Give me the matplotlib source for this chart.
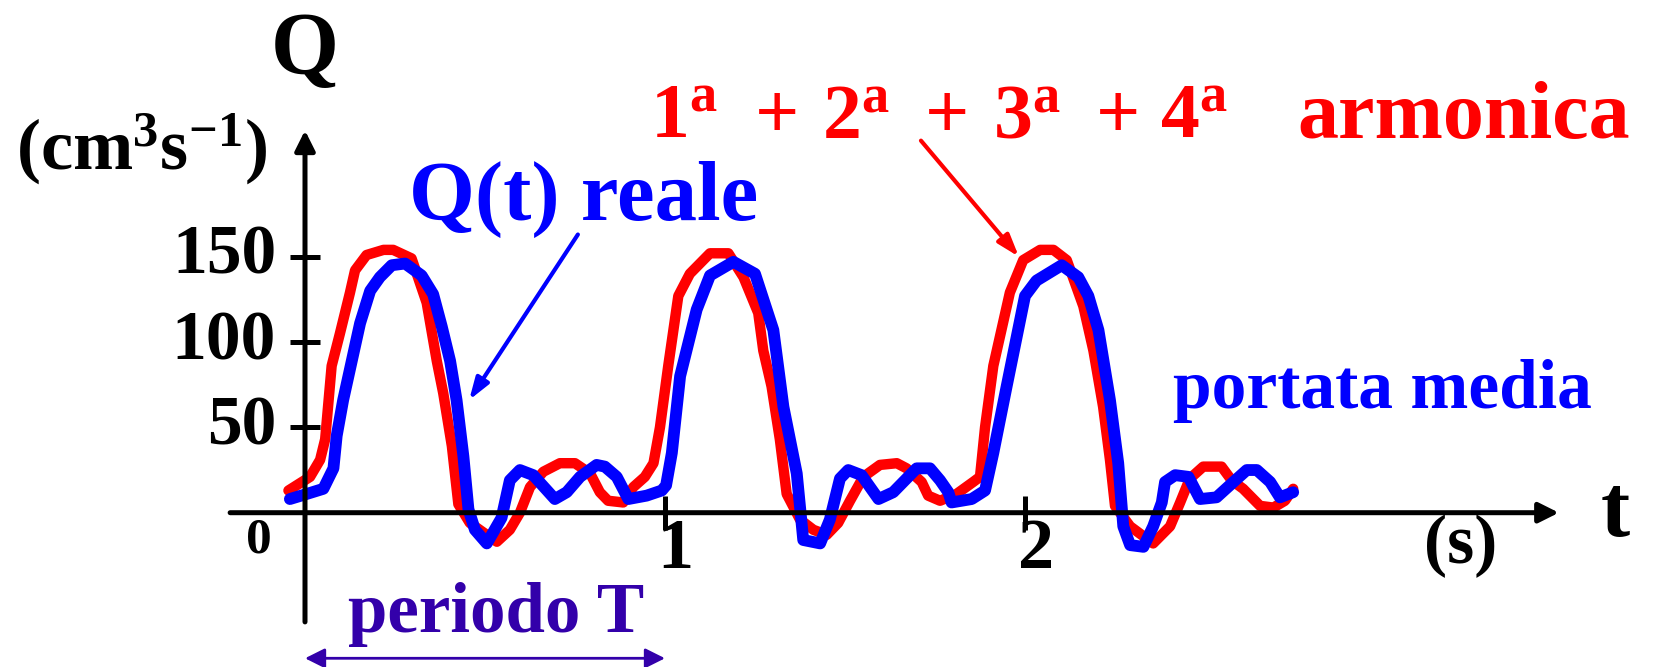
import numpy as np
import matplotlib.pyplot as plt

plt.rcParams['font.family'] = ['Liberation Serif', 'DejaVu Serif']
plt.rcParams['font.weight'] = 'bold'
plt.rcParams['mathtext.fontset'] = 'custom'
plt.rcParams['mathtext.rm'] = 'Liberation Serif:bold'
plt.rcParams['mathtext.it'] = 'Liberation Serif:bold'
plt.rcParams['mathtext.bf'] = 'Liberation Serif:bold'

# portata reale Q(t) misurata (cm^3/s)
t_reale = [-0.042, 0.005, 0.051, 0.079, 0.088, 0.106, 0.130, 0.153, 0.181, 0.208,
           0.241, 0.278, 0.324, 0.356, 0.380, 0.403, 0.421, 0.440, 0.454, 0.472,
           0.505, 0.546, 0.569, 0.597, 0.634, 0.694, 0.727, 0.764, 0.810, 0.833,
           0.866, 0.898, 0.949, 0.991, 1.003, 1.019, 1.042, 1.088, 1.125, 1.190,
           1.250, 1.301, 1.329, 1.366, 1.384, 1.431, 1.458, 1.486, 1.509, 1.546,
           1.593, 1.634, 1.699, 1.736, 1.764, 1.787, 1.796, 1.852, 1.889, 1.912,
           1.949, 2.000, 2.032, 2.102, 2.148, 2.176, 2.204, 2.236, 2.259, 2.273,
           2.292, 2.329, 2.356, 2.380, 2.389, 2.417, 2.454, 2.486, 2.532, 2.579,
           2.616, 2.644, 2.681, 2.708, 2.745]
q_reale = [8, 11, 14, 26, 45, 66, 89, 111, 130, 138,
           145, 146, 139, 128, 109, 89, 66, 33, 2, -10,
           -18, -3, 19, 25, 22, 8, 12, 21, 28, 27,
           21, 8, 10, 13, 16, 35, 80, 119, 139, 147,
           140, 107, 62, 23, -16, -18, -4, 20, 25, 22,
           8, 12, 26, 26, 19, 12, 6, 8, 13, 35,
           74, 127, 136, 145, 138, 127, 107, 66, 29, -8,
           -19, -20, -8, 6, 18, 22, 21, 8, 9, 18,
           25, 25, 18, 9, 12]

# somma delle prime quattro armoniche
t_armoniche = [-0.046, 0.014, 0.042, 0.056, 0.074, 0.097, 0.125, 0.139, 0.171, 0.218,
               0.245, 0.296, 0.338, 0.366, 0.384, 0.408, 0.426, 0.458, 0.505, 0.533,
               0.569, 0.597, 0.625, 0.662, 0.708, 0.750, 0.792, 0.819, 0.842, 0.884,
               0.912, 0.944, 0.968, 0.986, 1.009, 1.037, 1.069, 1.125, 1.176, 1.218,
               1.259, 1.273, 1.296, 1.319, 1.338, 1.375, 1.412, 1.449, 1.481, 1.514,
               1.551, 1.597, 1.644, 1.671, 1.713, 1.731, 1.764, 1.810, 1.856, 1.875,
               1.889, 1.912, 1.958, 1.995, 2.042, 2.079, 2.116, 2.162, 2.190, 2.217,
               2.236, 2.250, 2.292, 2.356, 2.403, 2.431, 2.458, 2.495, 2.546, 2.574,
               2.606, 2.653, 2.690, 2.722, 2.745]
q_armoniche = [13, 21, 31, 43, 86, 105, 129, 142, 151, 154,
               154, 149, 123, 89, 70, 39, 5, -6, -13, -17,
               -10, 0, 15, 24, 29, 29, 23, 12, 7, 6,
               15, 21, 29, 50, 86, 127, 140, 152, 152, 138,
               117, 95, 74, 43, 11, -4, -10, -13, -6, 7,
               21, 28, 29, 26, 18, 10, 7, 11, 18, 21,
               50, 86, 129, 148, 154, 154, 148, 121, 95, 62,
               31, 4, -8, -18, -8, 6, 20, 27, 27, 19,
               14, 4, 3, 7, 14]

y_ticks = [50, 100, 150]
y_tick_labels = ['50', '100', '150']
x_ticks = [1, 2]
x_tick_labels = ['1', '2']
periodo = 1.0

W, H = 1663, 667
fig = plt.figure(figsize=(W / 100, H / 100), dpi=100)
ax = fig.add_axes([0, 0, 1, 1])
# 360 px per secondo, 1.7067 px per cm^3/s, origine in (305, 512.7)
ax.set_xlim(-305 / 360, (W - 305) / 360)
ax.set_ylim(-(H - 512.7) / 1.7067, 512.7 / 1.7067)
ax.axis('off')


def fxy(px, py):
    return px / W, 1 - py / H


# assi con freccia
axis_arrow = dict(arrowstyle='-|>,head_length=0.6,head_width=0.3', lw=3.6,
                  color='black', mutation_scale=20, shrinkA=0, shrinkB=0)
ax.annotate('', xy=(3.483, 0), xytext=(-0.208, 0), arrowprops=axis_arrow)
ax.annotate('', xy=(0, 224), xytext=(0, -64), arrowprops=axis_arrow)

ax.hlines(y_ticks, -0.042, 0.042, color='black', lw=3.6)
ax.vlines(x_ticks, -10, 10, color='black', lw=3.6)

for yv, lab in zip(y_ticks, y_tick_labels):
    ax.text(-0.08, yv, lab, ha='right', va='center', fontsize=50)
for xv, lab in zip(x_ticks, x_tick_labels):
    ax.text(xv + 0.03, -3, lab, ha='center', va='top', fontsize=52)
ax.text(-0.127, -16, '0', ha='center', va='center', fontsize=37)

# curve
ax.plot(t_armoniche, q_armoniche, color='#ff0000', lw=7.5, solid_joinstyle='round',
        solid_capstyle='round')
ax.plot(t_reale, q_reale, color='#0000ff', lw=8.5, solid_joinstyle='round',
        solid_capstyle='round')

# etichette assi
fig.text(*fxy(305, 73), 'Q', ha='center', va='baseline', fontsize=63)
fig.text(*fxy(16, 170), '(cm$^{3}$s$^{-1}$)', ha='left', va='baseline', fontsize=52)
fig.text(*fxy(1615, 536), 't', ha='center', va='baseline', fontsize=63)
fig.text(*fxy(1461, 546), '(s)', ha='center', va='center', fontsize=50)

# didascalie
fig.text(*fxy(409, 220), 'Q(t) reale', ha='left', va='baseline', fontsize=61,
         color='#0000ff')
ax.annotate('', xy=(0.456, 66), xytext=(0.758, 163),
            arrowprops=dict(arrowstyle='-|>,head_length=0.6,head_width=0.2',
                            lw=3, color='#0000ff', mutation_scale=22,
                            shrinkA=0, shrinkB=0))

armoniche_parti = ['1$^{a}$', '+', '2$^{a}$', '+', '3$^{a}$', '+', '4$^{a}$', 'armonica']
armoniche_x = [650, 755, 822, 925, 993, 1096, 1160, 1297]
for parte, px in zip(armoniche_parti, armoniche_x):
    size = 59 if parte == 'armonica' else 56
    fig.text(*fxy(px, 138), parte, ha='left', va='baseline', fontsize=size,
             color='#ff0000')
ax.annotate('', xy=(1.983, 150), xytext=(1.711, 218),
            arrowprops=dict(arrowstyle='-|>,head_length=0.6,head_width=0.2',
                            lw=3, color='#ff0000', mutation_scale=22,
                            shrinkA=0, shrinkB=0))
fig.text(*fxy(1173, 408), 'portata media', ha='left', va='baseline', fontsize=50,
         color='#0000ff')

# periodo
fig.text(*fxy(348, 632), 'periodo T', ha='left', va='baseline', fontsize=51,
         color='#3300aa')
ax.annotate('', xy=(periodo, -85.3), xytext=(0, -85.3),
            arrowprops=dict(arrowstyle='<|-|>,head_length=0.6,head_width=0.3',
                            lw=2, color='#3300aa', mutation_scale=20,
                            shrinkA=0, shrinkB=0))

fig.savefig('out.png', dpi=100, facecolor='white')
